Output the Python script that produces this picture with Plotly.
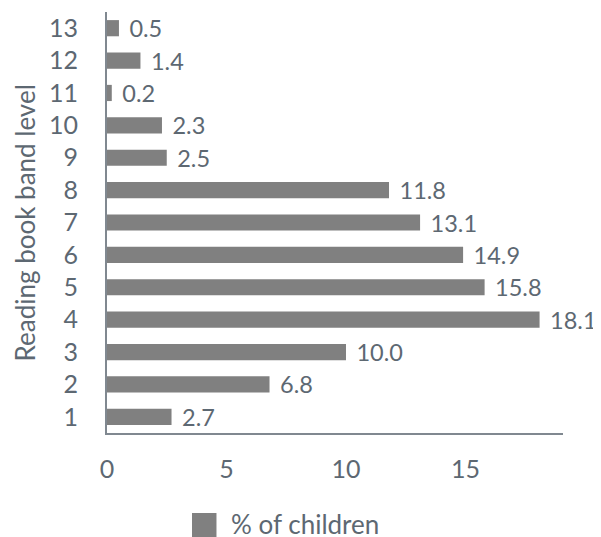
import plotly.graph_objects as go

levels = ["1", "2", "3", "4", "5", "6", "7", "8", "9", "10", "11", "12", "13"]
pct = [2.7, 6.8, 10.0, 18.1, 15.8, 14.9, 13.1, 11.8, 2.5, 2.3, 0.2, 1.4, 0.5]
x_ticks = [0, 5, 10, 15]
series_name = "% of children"
y_title = "Reading book band level"

BAR = "#808080"
TXT = "#5d6872"
AX = "#808890"
FONT = "Lato"
FS = 25

fig = go.Figure()
fig.add_trace(go.Bar(
    y=levels, x=pct, orientation="h", width=0.5, name=series_name,
    marker=dict(color=BAR, line=dict(width=0)),
    text=[" \u200a" + f"{v:.1f}" for v in pct], textposition="outside",
    textfont=dict(family=FONT, size=23.5, color=TXT),
    constraintext="none", cliponaxis=False, showlegend=False,
))

# legend drawn as a shape + text so the swatch can be full size
fig.add_shape(type="rect", xref="paper", yref="paper",
              x0=0.1864, x1=0.2401, y0=-0.247, y1=-0.190,
              fillcolor=BAR, line=dict(width=0))

# page body has an 8px margin, so figure is 8px smaller and margins shifted
fig.update_layout(
    width=593, height=529,
    margin=dict(l=99, r=38, t=4, b=104, autoexpand=False),
    paper_bgcolor="white", plot_bgcolor="white",
    font=dict(family=FONT, size=FS, color=TXT),
    xaxis=dict(range=[0, 19.08], tickvals=x_ticks, showgrid=False, zeroline=False,
               showline=True, linecolor=AX, linewidth=2, ticks="",
               ticklabelstandoff=13, tickfont=dict(size=FS, color=TXT), automargin=False),
    yaxis=dict(type="category", categoryorder="array", categoryarray=levels,
               range=[-0.5, 12.5], showgrid=False, zeroline=False,
               showline=True, linecolor=AX, linewidth=2, ticks="",
               ticklabelstandoff=22, tickfont=dict(size=FS, color=TXT), automargin=False),
    showlegend=False,
    annotations=[
        dict(text=y_title, x=-0.18, y=0.5, xref="paper", yref="paper",
             xanchor="center", yanchor="middle", textangle=-90, showarrow=False,
             font=dict(size=26, color=TXT)),
        dict(text=series_name, x=0.2675, y=-0.216, xref="paper", yref="paper",
             xanchor="left", yanchor="middle", showarrow=False,
             font=dict(size=26, color=TXT)),
    ],
)

fig.write_html("out.html")
